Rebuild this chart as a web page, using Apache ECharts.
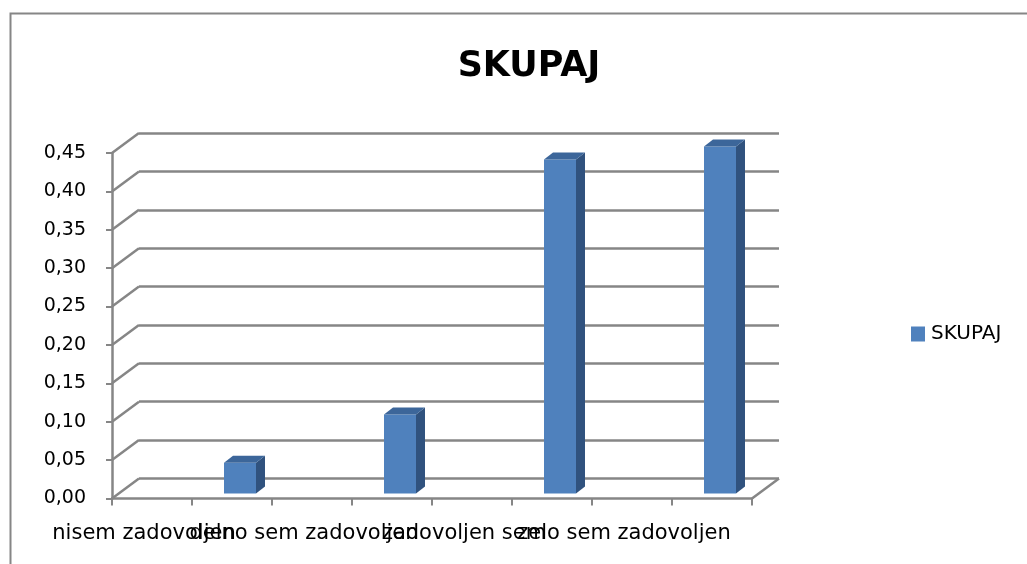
<!DOCTYPE html>
<html>
<head>
<meta charset="utf-8">
<title>SKUPAJ</title>
<script src="https://cdn.jsdelivr.net/npm/echarts@6/dist/echarts.min.js"></script>
<style>
  html, body { margin: 0; padding: 0; background: #fff; }
  #skupaj { width: 1027px; height: 564px; }
</style>
</head>
<body>
<div id="skupaj"></div>
<script>
var kategorije = ['nisem zadovoljen', 'delno sem zadovoljen', 'zadovoljen sem', 'zelo sem zadovoljen'];
var vrednosti = [0.040, 0.103, 0.435, 0.452];
var oznakeY = [0, 0.05, 0.10, 0.15, 0.20, 0.25, 0.30, 0.35, 0.40, 0.45];

// 3d look
var GL = 27, GV = -20;        // depth of the back wall
var BX = 48, BY = -5;         // bar shift into the depth
var BW = 32, SX = 9, SY = -7; // bar width and its own depth
var crta = '#868686';
var pisava = 'DejaVu Sans';

function narisiStolpec(params, api)
{
	var vrh = api.coord([api.value(0), api.value(1)]);
	var dno = api.coord([api.value(0), 0]);
	var x = vrh[0] + BX - BW / 2;
	var t = vrh[1] + BY;
	var b = dno[1] + BY;
	return {
		type: 'group',
		children: [
			{ type: 'rect', shape: { x: x, y: t, width: BW, height: b - t }, style: { fill: '#4F81BD' } },
			{ type: 'polygon', shape: { points: [[x + BW, t], [x + BW + SX, t + SY], [x + BW + SX, b + SY], [x + BW, b]] }, style: { fill: '#30527E' } },
			{ type: 'polygon', shape: { points: [[x, t], [x + SX, t + SY], [x + BW + SX, t + SY], [x + BW, t]] }, style: { fill: '#3C669A' } }
		]
	};
}

function narisiPoseve(params, api)
{
	var cs = params.coordSys;
	var y = api.coord([0, api.value(1)])[1];
	var deli = [
		{ type: 'line', shape: { x1: cs.x, y1: y, x2: cs.x + GL, y2: y + GV }, style: { stroke: crta, lineWidth: 2.5 } }
	];
	if (api.value(1) === 0) {
		deli.push({ type: 'line', shape: { x1: cs.x + cs.width, y1: y, x2: cs.x + cs.width + GL, y2: y + GV }, style: { stroke: crta, lineWidth: 2.5 } });
	}
	return { type: 'group', children: deli };
}

var sprednja = { left: 112, top: 153, width: 640, height: 345.5 };

option = {
	backgroundColor: '#fff',
	animation: false,
	title: {
		text: 'SKUPAJ',
		left: 524,
		textAlign: 'center',
		top: 44,
		textStyle: { fontFamily: pisava, fontWeight: 'bold', fontSize: 35, color: '#000' }
	},
	legend: {
		left: 906,
		top: 319,
		itemWidth: 14,
		itemHeight: 15,
		itemGap: 6,
		data: [{ name: 'SKUPAJ', icon: 'rect' }],
		textStyle: { fontFamily: pisava, fontSize: 20, color: '#000', padding: [0, 0, 0, 1] }
	},
	graphic: [
		{ type: 'rect', left: 8, top: 11, shape: { width: 1040, height: 580 }, style: { fill: 'none', stroke: crta, lineWidth: 2 } }
	],
	grid: [
		{ left: sprednja.left, top: sprednja.top, width: sprednja.width, height: sprednja.height, outerBoundsMode: 'none' },
		{ left: sprednja.left + GL, top: sprednja.top + GV, width: sprednja.width, height: sprednja.height, outerBoundsMode: 'none' }
	],
	xAxis: [
		{
			type: 'category',
			gridIndex: 0,
			data: kategorije,
			axisLine: { lineStyle: { color: crta, width: 2.5 } },
			axisTick: { show: false },
			axisLabel: {
				interval: 0,
				margin: 25,
				fontFamily: pisava,
				fontSize: 21,
				color: '#000',
				padding: [0, 96, 0, 0]
			}
		},
		{
			type: 'value',
			gridIndex: 0,
			min: 0,
			max: 4,
			interval: 0.5,
			position: 'bottom',
			axisLine: { show: false },
			axisTick: { show: true, length: 7, lineStyle: { color: crta, width: 2 } },
			axisLabel: { show: false },
			splitLine: { show: false }
		},
		{
			type: 'category',
			gridIndex: 1,
			data: kategorije,
			show: false
		}
	],
	yAxis: [
		{
			type: 'value',
			gridIndex: 0,
			min: 0,
			max: 0.45,
			interval: 0.05,
			axisLine: { show: true, lineStyle: { color: crta, width: 2.5 } },
			axisTick: { show: true, length: 6, lineStyle: { color: crta, width: 2 } },
			axisLabel: {
				margin: 26,
				fontFamily: pisava,
				fontSize: 19,
				color: '#000',
				formatter: function (v) { return v.toFixed(2).replace('.', ','); }
			},
			splitLine: { show: false }
		},
		{
			type: 'value',
			gridIndex: 1,
			min: 0,
			max: 0.45,
			interval: 0.05,
			axisLine: { show: false },
			axisTick: { show: false },
			axisLabel: { show: false },
			splitLine: { show: true, lineStyle: { color: crta, width: 2.5 } }
		}
	],
	series: [
		{
			name: 'poseve',
			type: 'custom',
			xAxisIndex: 0,
			yAxisIndex: 0,
			silent: true,
			renderItem: narisiPoseve,
			data: oznakeY.map(function (t) { return [0, t]; }),
			z: 1
		},
		{
			name: 'SKUPAJ',
			type: 'custom',
			xAxisIndex: 0,
			yAxisIndex: 0,
			itemStyle: { color: '#4F81BD' },
			renderItem: narisiStolpec,
			data: vrednosti.map(function (v, i) { return [i, v]; }),
			z: 5
		}
	]
};

var skupaj = echarts.init(document.getElementById('skupaj'));
skupaj.setOption(option);
</script>
</body>
</html>
